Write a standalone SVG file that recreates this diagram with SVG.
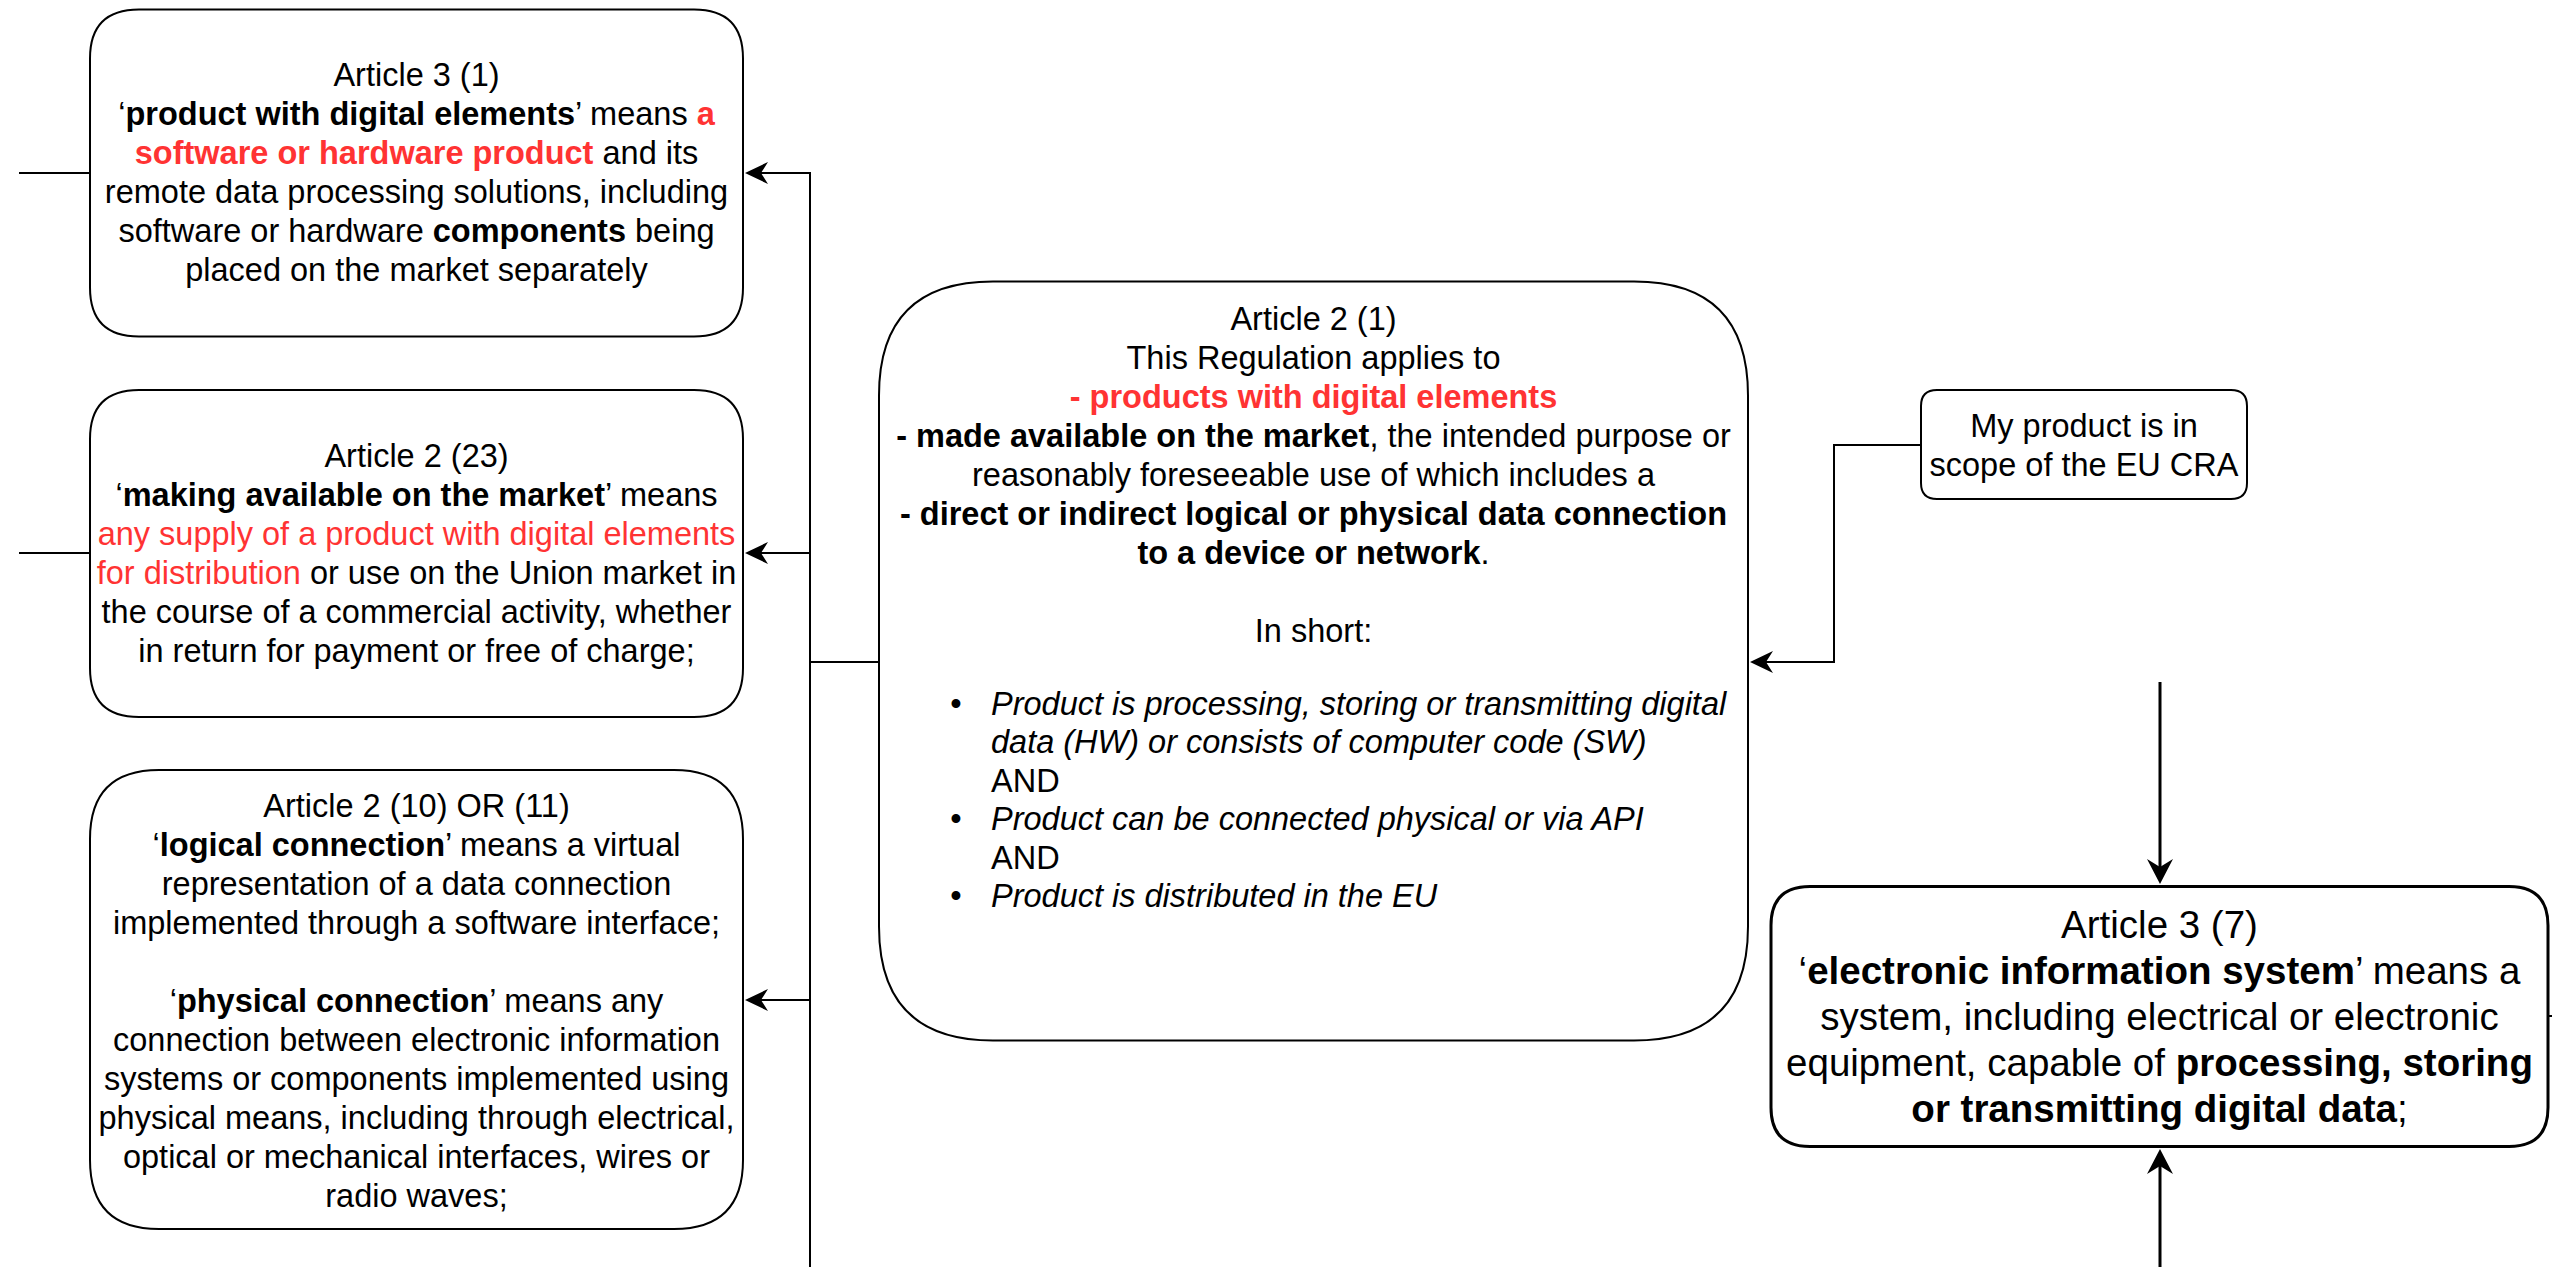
<svg xmlns="http://www.w3.org/2000/svg" width="2552" height="1267" viewBox="0 0 2552 1267">
  <style>
    .box { fill: #ffffff; stroke: #000000; stroke-width: 2; }
    .box-thick { fill: #ffffff; stroke: #000000; stroke-width: 3; }
    .edge { fill: none; stroke: #000000; stroke-width: 2; }
    .edge-thick { fill: none; stroke: #000000; stroke-width: 3; }
    .t { font-family: "Liberation Sans", Arial, Helvetica, sans-serif; font-size: 32.5px; fill: #000000; text-anchor: middle; }
    .t-big { font-size: 38.5px; }
    .left { text-anchor: start; }
    .b { font-weight: bold; }
    .r { fill: #ff3333; }
    .i { font-style: italic; }
  </style>
  <defs>
    <marker id="arrow" markerUnits="userSpaceOnUse" markerWidth="24" markerHeight="24" viewBox="0 0 24 24" refX="7" refY="12" orient="auto">
      <path d="M0,1 L23,12 L0,23 L7,12 Z" fill="#000000"/>
    </marker>
    <marker id="arrow-thick" markerUnits="userSpaceOnUse" markerWidth="26" markerHeight="28" viewBox="0 0 26 28" refX="8" refY="14" orient="auto">
      <path d="M0,1 L25,14 L0,27 L8,14 Z" fill="#000000"/>
    </marker>
  </defs>

  <rect width="2552" height="1267" fill="#ffffff"/>

  <!-- connectors -->
  <g id="connectors">
    <path class="edge" d="M19,173 H90"/>
    <path class="edge" d="M19,553 H90"/>
    <path class="edge" d="M810,662 V1267"/>
    <path class="edge" marker-end="url(#arrow)" d="M879,662 H810 V173 H761"/>
    <path class="edge" marker-end="url(#arrow)" d="M810,553 H761"/>
    <path class="edge" marker-end="url(#arrow)" d="M810,1000 H761"/>
    <path class="edge" marker-end="url(#arrow)" d="M1921,445 H1834 V662 H1766"/>
    <path class="edge-thick" marker-end="url(#arrow-thick)" d="M2160,682 V867"/>
    <path class="edge-thick" marker-end="url(#arrow-thick)" d="M2160,1267 V1166"/>
    <path class="edge" d="M2549,1016 H2552"/>
  </g>

  <!-- Article 3 (1) -->
  <g id="art3-1">
    <path class="box" d="M139,9.5 L694,9.5 Q743,9.5 743,58.5 L743,287.5 Q743,336.5 694,336.5 L139,336.5 Q90,336.5 90,287.5 L90,58.5 Q90,9.5 139,9.5 Z"/>
    <text class="t" x="416.5" y="86">Article 3 (1)</text>
    <text class="t" x="416.5" y="125">‘<tspan class="b">product with digital elements</tspan>’ means <tspan class="b r">a</tspan></text>
    <text class="t" x="416.5" y="164"><tspan class="b r">software or hardware product</tspan> and its</text>
    <text class="t" x="416.5" y="203">remote data processing solutions, including</text>
    <text class="t" x="416.5" y="242">software or hardware <tspan class="b">components</tspan> being</text>
    <text class="t" x="416.5" y="281">placed on the market separately</text>
  </g>

  <!-- Article 2 (23) -->
  <g id="art2-23">
    <path class="box" d="M139,390 L694,390 Q743,390 743,439 L743,668 Q743,717 694,717 L139,717 Q90,717 90,668 L90,439 Q90,390 139,390 Z"/>
    <text class="t" x="416.5" y="467">Article 2 (23)</text>
    <text class="t" x="416.5" y="506">‘<tspan class="b">making available on the market</tspan>’ means</text>
    <text class="t r" x="416.5" y="545">any supply of a product with digital elements</text>
    <text class="t" x="416.5" y="584"><tspan class="r">for distribution</tspan> or use on the Union market in</text>
    <text class="t" x="416.5" y="623">the course of a commercial activity, whether</text>
    <text class="t" x="416.5" y="662">in return for payment or free of charge;</text>
  </g>

  <!-- Article 2 (10) OR (11) -->
  <g id="art2-10-11">
    <path class="box" d="M159,770 L674,770 Q743,770 743,839 L743,1160 Q743,1229 674,1229 L159,1229 Q90,1229 90,1160 L90,839 Q90,770 159,770 Z"/>
    <text class="t" x="416.5" y="817">Article 2 (10) OR (11)</text>
    <text class="t" x="416.5" y="856">‘<tspan class="b">logical connection</tspan>’ means a virtual</text>
    <text class="t" x="416.5" y="895">representation of a data connection</text>
    <text class="t" x="416.5" y="934">implemented through a software interface;</text>
    <text class="t" x="416.5" y="1012">‘<tspan class="b">physical connection</tspan>’ means any</text>
    <text class="t" x="416.5" y="1051">connection between electronic information</text>
    <text class="t" x="416.5" y="1090">systems or components implemented using</text>
    <text class="t" x="416.5" y="1129">physical means, including through electrical,</text>
    <text class="t" x="416.5" y="1168">optical or mechanical interfaces, wires or</text>
    <text class="t" x="416.5" y="1207">radio waves;</text>
  </g>

  <!-- Article 2 (1) -->
  <g id="art2-1">
    <path class="box" d="M993,281.5 L1634,281.5 Q1748,281.5 1748,395.5 L1748,926.5 Q1748,1040.5 1634,1040.5 L993,1040.5 Q879,1040.5 879,926.5 L879,395.5 Q879,281.5 993,281.5 Z"/>
    <text class="t" x="1313.5" y="329.5">Article 2 (1)</text>
    <text class="t" x="1313.5" y="368.5">This Regulation applies to</text>
    <text class="t b r" x="1313.5" y="407.5">- products with digital elements</text>
    <text class="t" x="1313.5" y="446.5"><tspan class="b">- made available on the market</tspan>, the intended purpose or</text>
    <text class="t" x="1313.5" y="485.5">reasonably foreseeable use of which includes a</text>
    <text class="t b" x="1313.5" y="524.5">- direct or indirect logical or physical data connection</text>
    <text class="t" x="1313.5" y="563.5"><tspan class="b">to a device or network</tspan>.</text>
    <text class="t" x="1313.5" y="641.5">In short:</text>
    <text class="t" x="956" y="714.5">•</text>
    <text class="t left i" x="991" y="714.5">Product is processing, storing or transmitting digital</text>
    <text class="t left i" x="991" y="753">data (HW) or consists of computer code (SW)</text>
    <text class="t left" x="991" y="791.5">AND</text>
    <text class="t" x="956" y="830">•</text>
    <text class="t left i" x="991" y="830">Product can be connected physical or via API</text>
    <text class="t left" x="991" y="868.5">AND</text>
    <text class="t" x="956" y="907">•</text>
    <text class="t left i" x="991" y="907">Product is distributed in the EU</text>
  </g>

  <!-- In scope statement -->
  <g id="in-scope">
    <path class="box" d="M1937,390 L2231,390 Q2247,390 2247,406 L2247,483 Q2247,499 2231,499 L1937,499 Q1921,499 1921,483 L1921,406 Q1921,390 1937,390 Z"/>
    <text class="t" x="2084" y="436.5">My product is in</text>
    <text class="t" x="2084" y="475.5">scope of the EU CRA</text>
  </g>

  <!-- Article 3 (7) -->
  <g id="art3-7">
    <path class="box-thick" d="M1810,886.5 L2509,886.5 Q2548,886.5 2548,925.5 L2548,1107.5 Q2548,1146.5 2509,1146.5 L1810,1146.5 Q1771,1146.5 1771,1107.5 L1771,925.5 Q1771,886.5 1810,886.5 Z"/>
    <text class="t t-big" x="2159.5" y="937.5">Article 3 (7)</text>
    <text class="t t-big" x="2159.5" y="983.5">‘<tspan class="b">electronic information system</tspan>’ means a</text>
    <text class="t t-big" x="2159.5" y="1029.5">system, including electrical or electronic</text>
    <text class="t t-big" x="2159.5" y="1075.5">equipment, capable of <tspan class="b">processing, storing</tspan></text>
    <text class="t t-big" x="2159.5" y="1121.5"><tspan class="b">or transmitting digital data</tspan>;</text>
  </g>
</svg>
